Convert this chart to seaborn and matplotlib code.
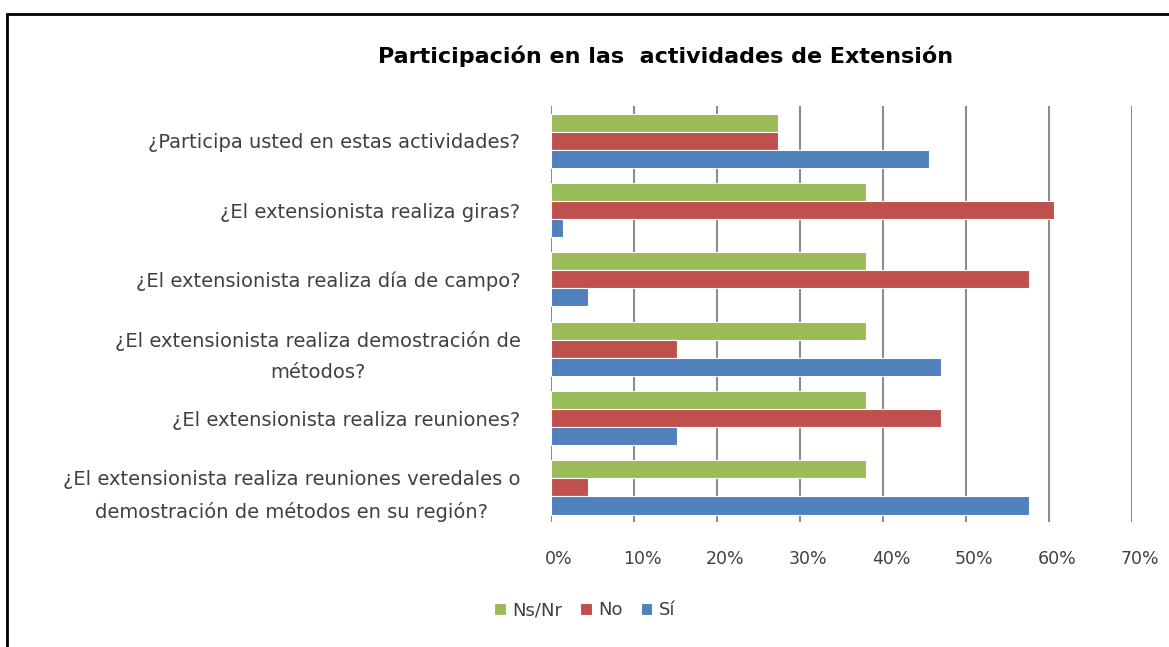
import pandas as pd
import matplotlib.pyplot as plt
import matplotlib.transforms as mtransforms
from matplotlib.lines import Line2D
from matplotlib.ticker import PercentFormatter
import seaborn as sns

# -----------------------------
# Datos (porcentaje de respuestas)
# -----------------------------
preguntas = [
    "¿Participa usted en estas actividades?",
    "¿El extensionista realiza giras?",
    "¿El extensionista realiza día de campo?",
    "¿El extensionista realiza demostración de\nmétodos?",
    "¿El extensionista realiza reuniones?",
    "¿El extensionista realiza reuniones veredales o\ndemostración de métodos en su región?",
]
ns_nr = [27.3, 37.9, 37.9, 37.9, 37.9, 37.9]
no = [27.3, 60.6, 57.6, 15.2, 47.0, 4.5]
si = [45.5, 1.5, 4.5, 47.0, 15.2, 57.6]

series = ["Ns/Nr", "No", "Sí"]
colores = ["#9BBB59", "#C0504D", "#4F81BD"]

df = pd.DataFrame({"pregunta": preguntas, "Ns/Nr": ns_nr, "No": no, "Sí": si})
df_long = df.melt(id_vars="pregunta", var_name="respuesta", value_name="pct")

# -----------------------------
# Gráfico
# -----------------------------
sns.set_style("white")
plt.rcParams["font.family"] = ["DejaVu Sans"]

fig = plt.figure(figsize=(11.69, 6.47), dpi=100)
ax = fig.add_axes([0.4713, 0.193, 0.4970, 0.643])

sns.barplot(data=df_long, y="pregunta", x="pct", hue="respuesta",
            hue_order=series, palette=colores, order=preguntas,
            orient="h", width=0.78, edgecolor="white", linewidth=0.8,
            saturation=1, ax=ax)

ax.set_xlim(0, 70)
ax.set_xticks(range(0, 71, 10))
ax.xaxis.set_major_formatter(PercentFormatter(decimals=0))
ax.grid(axis="x", color="#8C8C8C", linewidth=1.5)
ax.set_axisbelow(True)
for s in ax.spines.values():
    s.set_visible(False)
ax.set_xlabel("")
ax.set_ylabel("")
ax.tick_params(axis="x", length=0, pad=20, labelsize=12.5, colors="#404040")
ax.tick_params(axis="y", length=0, pad=22, labelsize=14, colors="#404040")
for lab in ax.get_yticklabels():
    lab.set_multialignment("center")
    lab.set_linespacing(1.8)
offset = mtransforms.ScaledTranslation(8 / 100, 0, fig.dpi_scale_trans)
for lab in ax.get_xticklabels():
    lab.set_transform(lab.get_transform() + offset)

fig.text(0.569, 0.913, "Participación en las  actividades de Extensión",
         ha="center", va="center", fontsize=16, fontweight="bold", color="black")

handles, labels = ax.get_legend_handles_labels()
ax.legend_.remove()
fig.legend(handles, labels, loc="center", bbox_to_anchor=(0.5, 0.057), ncol=3,
           frameon=False, fontsize=13, handlelength=0.65, handleheight=0.65,
           handletextpad=0.35, columnspacing=1.0, labelcolor="#404040")

# marco del gráfico
fig.add_artist(Line2D([0.006, 1.0], [0.979, 0.979], color="black", linewidth=2))
fig.add_artist(Line2D([0.006, 0.006], [0.0, 0.979], color="black", linewidth=2))

fig.savefig("out.png", dpi=100)
